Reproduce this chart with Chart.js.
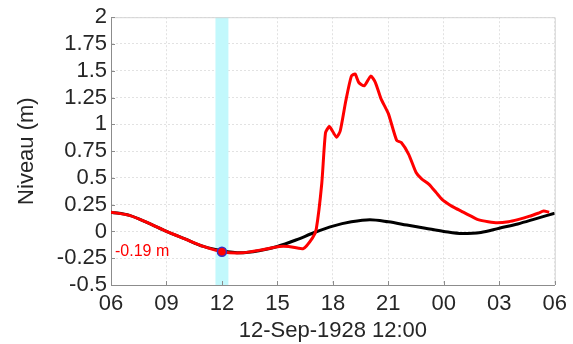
<!DOCTYPE html>
<html>
<head>
<meta charset="utf-8">
<script src="https://cdn.jsdelivr.net/npm/chart.js@4.4.0/dist/chart.umd.min.js"></script>
<style>
  html, body { margin: 0; padding: 0; background: #fff; }
  #chart { display: block; }
</style>
</head>
<body>
<canvas id="chart" width="573" height="344"></canvas>
<script>
// hours counted from 00:00 on 12-Sep-1928 (24 = 00:00 next day)
const hourTicks = [6, 9, 12, 15, 18, 21, 24, 27, 30];

// predicted tide (black)
const tideHours = [6, 7, 8, 9, 10, 11, 12, 13, 14, 15, 16, 17, 18, 19, 20, 21, 22, 23, 24, 25, 26, 27, 28, 29, 30];
const tideLevels = [0.18, 0.15, 0.08, 0.00, -0.07, -0.14, -0.18, -0.20, -0.18, -0.14, -0.08, -0.01, 0.05, 0.09, 0.11, 0.09, 0.06, 0.03, 0.00, -0.02, -0.01, 0.03, 0.07, 0.12, 0.17];

// observed level (red)
const obsHours = [6, 7, 8, 9, 10, 11, 12, 13.1, 14.2, 15.1, 15.6, 16.4, 16.9, 17.1, 17.4, 17.6, 17.8, 17.9, 18.2, 18.4, 18.7, 19.0, 19.2, 19.4, 19.7, 20.05, 20.3, 20.6, 21.0, 21.45, 21.7, 22.1, 22.5, 22.8, 23.2, 23.6, 23.9, 24.3, 24.6, 25.05, 25.5, 25.85, 26.4, 26.9, 27.5, 28.0, 28.6, 29.1, 29.4, 29.7];
const obsLevels = [0.18, 0.15, 0.08, 0.00, -0.07, -0.14, -0.19, -0.20, -0.17, -0.14, -0.14, -0.16, -0.06, 0.02, 0.45, 0.92, 0.98, 0.96, 0.88, 0.94, 1.22, 1.45, 1.47, 1.39, 1.36, 1.45, 1.39, 1.24, 1.10, 0.85, 0.83, 0.72, 0.55, 0.49, 0.44, 0.36, 0.30, 0.25, 0.22, 0.18, 0.14, 0.11, 0.09, 0.08, 0.09, 0.11, 0.14, 0.17, 0.19, 0.18];

// highlighted instant
const markerHour = 12;
const markerLevel = -0.19;
const bandStart = 11.65;
const bandEnd = 12.35;

const textColor = '#262626';
const tickFont = { family: '"Liberation Sans", Arial, sans-serif', size: 22 };

const toPoints = (xs, ys) => xs.map((x, i) => ({ x: x, y: ys[i] }));

const overlayPlugin = {
  id: 'overlay',
  beforeDatasetsDraw(chart) {
    const { ctx, chartArea, scales } = chart;
    const x1 = scales.x.getPixelForValue(bandStart);
    const x2 = scales.x.getPixelForValue(bandEnd);
    ctx.save();
    ctx.fillStyle = '#c2f8fc';
    ctx.fillRect(x1, chartArea.top, x2 - x1, chartArea.bottom - chartArea.top);
    ctx.restore();
  },
  afterDatasetsDraw(chart) {
    const { ctx, chartArea, scales } = chart;
    ctx.save();
    // light box on top / right
    ctx.strokeStyle = '#d4d4d4';
    ctx.lineWidth = 1;
    ctx.beginPath();
    ctx.moveTo(chartArea.left, chartArea.top + 0.5);
    ctx.lineTo(chartArea.right + 0.5, chartArea.top + 0.5);
    ctx.lineTo(chartArea.right + 0.5, chartArea.bottom);
    ctx.stroke();
    // inward tick marks
    ctx.strokeStyle = '#8c8c8c';
    ctx.beginPath();
    scales.x.ticks.forEach(t => {
      const px = Math.round(scales.x.getPixelForValue(t.value)) + 0.5;
      ctx.moveTo(px, chartArea.bottom);
      ctx.lineTo(px, chartArea.bottom - 4);
    });
    scales.y.ticks.forEach(t => {
      const py = Math.round(scales.y.getPixelForValue(t.value)) + 0.5;
      ctx.moveTo(chartArea.left, py);
      ctx.lineTo(chartArea.left + 4, py);
    });
    ctx.stroke();
    // value label
    ctx.fillStyle = '#ff0000';
    ctx.font = '16px "Liberation Sans", Arial, sans-serif';
    ctx.textAlign = 'left';
    ctx.textBaseline = 'middle';
    ctx.fillText(markerLevel.toFixed(2) + ' m', chartArea.left + 4, scales.y.getPixelForValue(markerLevel));
    ctx.restore();
  }
};

new Chart(document.getElementById('chart'), {
  type: 'line',
  data: {
    datasets: [
      {
        label: 'marker',
        data: [{ x: markerHour, y: markerLevel }],
        showLine: false,
        pointRadius: 4.5,
        pointBackgroundColor: '#ff0000',
        pointBorderColor: '#3a2fc0',
        pointBorderWidth: 1.5,
        order: 0
      },
      {
        label: 'observed',
        data: toPoints(obsHours, obsLevels),
        borderColor: '#ff0000',
        borderWidth: 3,
        pointRadius: 0,
        tension: 0.2,
        order: 1
      },
      {
        label: 'tide',
        data: toPoints(tideHours, tideLevels),
        borderColor: '#000000',
        borderWidth: 3,
        pointRadius: 0,
        cubicInterpolationMode: 'monotone',
        order: 2
      }
    ]
  },
  options: {
    responsive: false,
    animation: false,
    events: [],
    layout: { padding: { top: 16, right: 16, bottom: 0, left: 0 } },
    plugins: {
      legend: { display: false },
      tooltip: { enabled: false }
    },
    scales: {
      x: {
        type: 'linear',
        min: 6,
        max: 30,
        afterBuildTicks: scale => {
          scale.ticks = hourTicks.map(v => ({ value: v }));
        },
        afterFit: scale => { scale.height = 59; },
        ticks: {
          color: textColor,
          font: tickFont,
          padding: 6,
          maxRotation: 0,
          autoSkip: false,
          callback: v => String(v % 24).padStart(2, '0')
        },
        grid: { color: '#e2e2e2', drawTicks: false },
        border: { color: '#8c8c8c', dash: [2, 2] },
        title: {
          display: true,
          text: '12-Sep-1928 12:00',
          color: textColor,
          font: tickFont,
          padding: { top: 0, bottom: 0 }
        }
      },
      y: {
        min: -0.5,
        max: 2,
        afterFit: scale => { scale.width = 111; },
        ticks: {
          stepSize: 0.25,
          autoSkip: false,
          color: textColor,
          font: tickFont,
          padding: 4,
          callback: v => String(Number(v.toFixed(2)))
        },
        grid: { color: '#e2e2e2', drawTicks: false },
        border: { color: '#8c8c8c', dash: [2, 2] },
        title: {
          display: true,
          text: 'Niveau (m)',
          color: textColor,
          font: tickFont,
          padding: { top: 14, bottom: 0 }
        }
      }
    }
  },
  plugins: [overlayPlugin]
});
</script>
</body>
</html>
